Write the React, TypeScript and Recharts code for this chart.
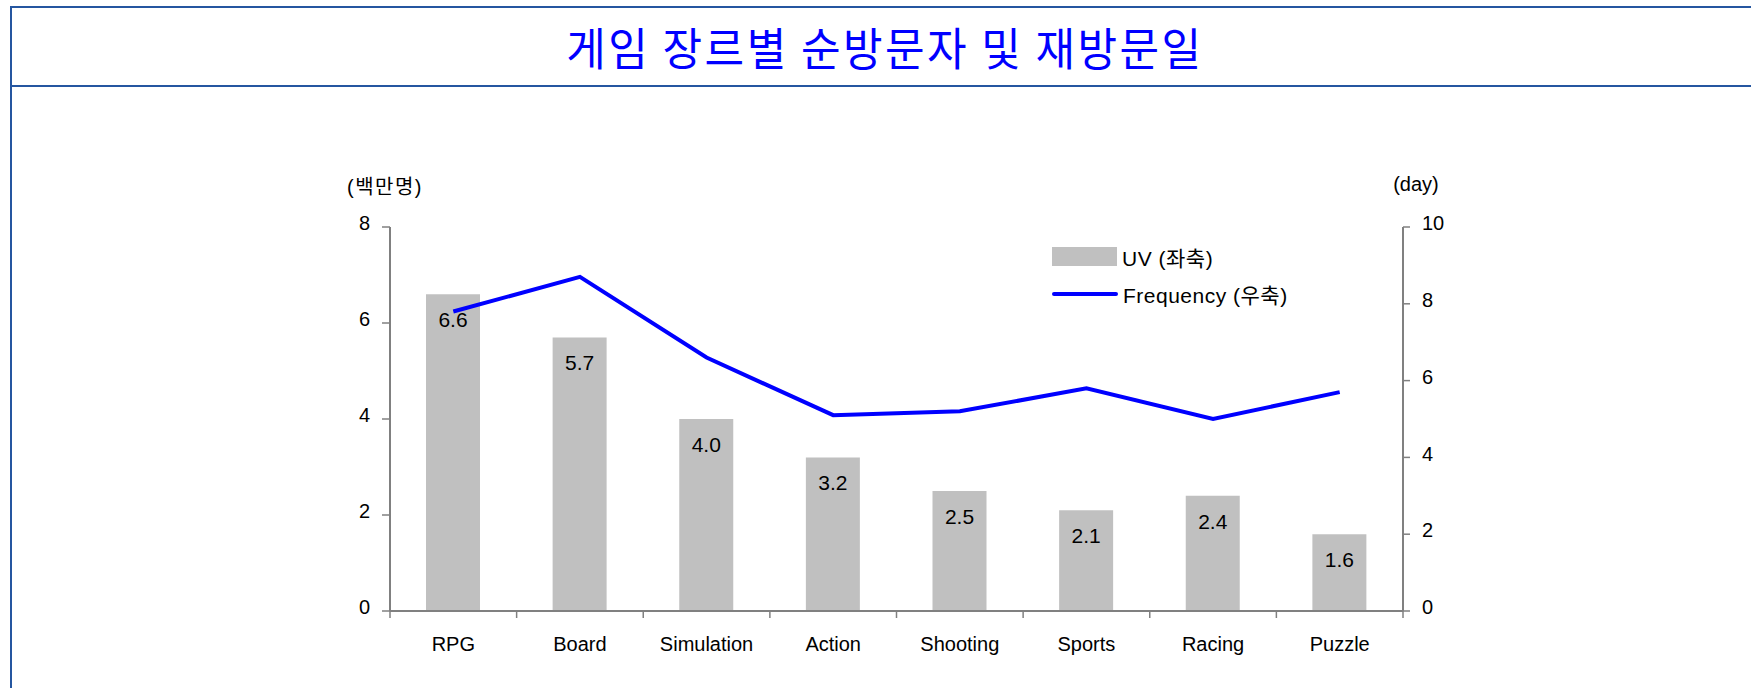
import React from 'react';
import { ComposedChart, Bar, Line, XAxis, YAxis, Legend, LabelList } from 'recharts';

const categories = ['RPG', 'Board', 'Simulation', 'Action', 'Shooting', 'Sports', 'Racing', 'Puzzle'];
const uvValues = [6.6, 5.7, 4.0, 3.2, 2.5, 2.1, 2.4, 1.6]; // 백만명 (left axis)
const frequencyValues = [7.8, 8.7, 6.6, 5.1, 5.2, 5.8, 5.0, 5.7]; // day (right axis)
const leftTicks = [0, 2, 4, 6, 8];
const rightTicks = [0, 2, 4, 6, 8, 10];

const W = 1751;
const H = 688;
const PLOT_LEFT = 390;
const PLOT_RIGHT = 1403;
const BAND = (PLOT_RIGHT - PLOT_LEFT) / categories.length;
const AXIS_GREY = '#808080';
const FRAME_BLUE = '#2556a0';
const FONT = '"Liberation Sans", Arial, "Noto Sans CJK KR", sans-serif';

const data = categories.map((name, i) => ({
  name,
  uv: uvValues[i],
  frequency: frequencyValues[i],
}));

const CategoryTick = (props: any) => {
  const { x, y, payload, index } = props;
  const last = index === categories.length - 1;
  return (
    <g>
      <line x1={x - BAND / 2} y1={y} x2={x - BAND / 2} y2={y + 7} stroke={AXIS_GREY} strokeWidth={1.5} />
      {last && <line x1={x + BAND / 2} y1={y} x2={x + BAND / 2} y2={y + 7} stroke={AXIS_GREY} strokeWidth={1.5} />}
      <text x={x} y={y + 40} textAnchor="middle" fontSize={20} fill="#000" fontFamily={FONT}>
        {payload.value}
      </text>
    </g>
  );
};

// bar swatch first, then the line, like the original
const LegendBox = ({ payload }: any) => {
  const items = [...(payload || [])].sort((a: any, b: any) => (a.type === 'line' ? 1 : 0) - (b.type === 'line' ? 1 : 0));
  return (
    <div style={{ fontFamily: FONT, fontSize: 21, color: '#000' }}>
      {items.map((item: any, i: number) => (
        <div key={i} style={{ display: 'flex', alignItems: 'center', height: 37 }}>
          {item.type === 'line' ? (
            <div style={{ width: 66, height: 4, borderRadius: 2, background: item.color }} />
          ) : (
            <div style={{ width: 65, height: 19, background: item.color }} />
          )}
          <span style={{ marginLeft: 5, letterSpacing: 0.5 }}>{item.value}</span>
        </div>
      ))}
    </div>
  );
};

export default function App() {
  return (
    <div style={{ position: 'absolute', left: 0, top: 0, width: W, height: H, background: '#fff', overflow: 'hidden' }}>
      {/* frame */}
      <div style={{ position: 'absolute', left: 10, top: 6, width: W, height: H, borderTop: `2px solid ${FRAME_BLUE}`, borderLeft: `2px solid ${FRAME_BLUE}` }} />
      <div style={{ position: 'absolute', left: 10, top: 85, width: W, height: 2, background: FRAME_BLUE }} />
      <div
        style={{
          position: 'absolute',
          left: 885,
          top: 46,
          transform: 'translate(-50%, -50%) scaleY(1.06)',
          whiteSpace: 'nowrap',
          fontFamily: '"Noto Sans CJK KR", sans-serif',
          fontSize: 43,
          letterSpacing: 2.5,
          color: '#0000ff',
        }}
      >
        게임 장르별 순방문자 및 재방문일
      </div>

      <div style={{ position: 'absolute', left: 385, top: 185, transform: 'translate(-50%, -50%)', fontFamily: FONT, fontSize: 20, letterSpacing: 1.5, whiteSpace: 'nowrap' }}>
        (백만명)
      </div>
      <div style={{ position: 'absolute', left: 1416, top: 184, transform: 'translate(-50%, -50%)', fontFamily: FONT, fontSize: 20, whiteSpace: 'nowrap' }}>
        (day)
      </div>

      <div style={{ position: 'absolute', left: 0, top: 0 }}>
        <ComposedChart width={W} height={H} data={data} margin={{ top: 227, right: 288, bottom: 37, left: 330 }}>
          <XAxis
            dataKey="name"
            height={40}
            interval={0}
            axisLine={{ stroke: AXIS_GREY, strokeWidth: 2 }}
            tickLine={false}
            tickSize={0}
            tickMargin={0}
            tick={<CategoryTick />}
          />
          <YAxis
            yAxisId="left"
            width={60}
            domain={[0, 8]}
            ticks={leftTicks}
            axisLine={{ stroke: AXIS_GREY, strokeWidth: 2 }}
            tickLine={{ stroke: AXIS_GREY, strokeWidth: 1.5 }}
            tickSize={8}
            tickMargin={12}
            tick={{ fill: '#000', fontSize: 20, fontFamily: FONT, dy: -4 }}
          />
          <YAxis
            yAxisId="right"
            orientation="right"
            width={60}
            domain={[0, 10]}
            ticks={rightTicks}
            axisLine={{ stroke: AXIS_GREY, strokeWidth: 2 }}
            tickLine={{ stroke: AXIS_GREY, strokeWidth: 1.5 }}
            tickSize={7}
            tickMargin={12}
            tick={{ fill: '#000', fontSize: 20, fontFamily: FONT, dy: -4 }}
          />
          <Legend
            layout="vertical"
            align="center"
            verticalAlign="middle"
            content={<LegendBox />}
            wrapperStyle={{ left: 1052, top: 238, width: 320, height: 80 }}
          />
          <Bar yAxisId="left" dataKey="uv" name="UV (좌축)" fill="#c0c0c0" barSize={54} isAnimationActive={false}>
            <LabelList
              dataKey="uv"
              position="insideTop"
              offset={18}
              formatter={(v: any) => Number(v).toFixed(1)}
              style={{ fill: '#000', fontSize: 21, fontFamily: FONT }}
            />
          </Bar>
          <Line
            yAxisId="right"
            dataKey="frequency"
            name="Frequency (우축)"
            type="linear"
            stroke="#0000ff"
            strokeWidth={4}
            dot={false}
            activeDot={false}
            isAnimationActive={false}
          />
        </ComposedChart>
      </div>
    </div>
  );
}
